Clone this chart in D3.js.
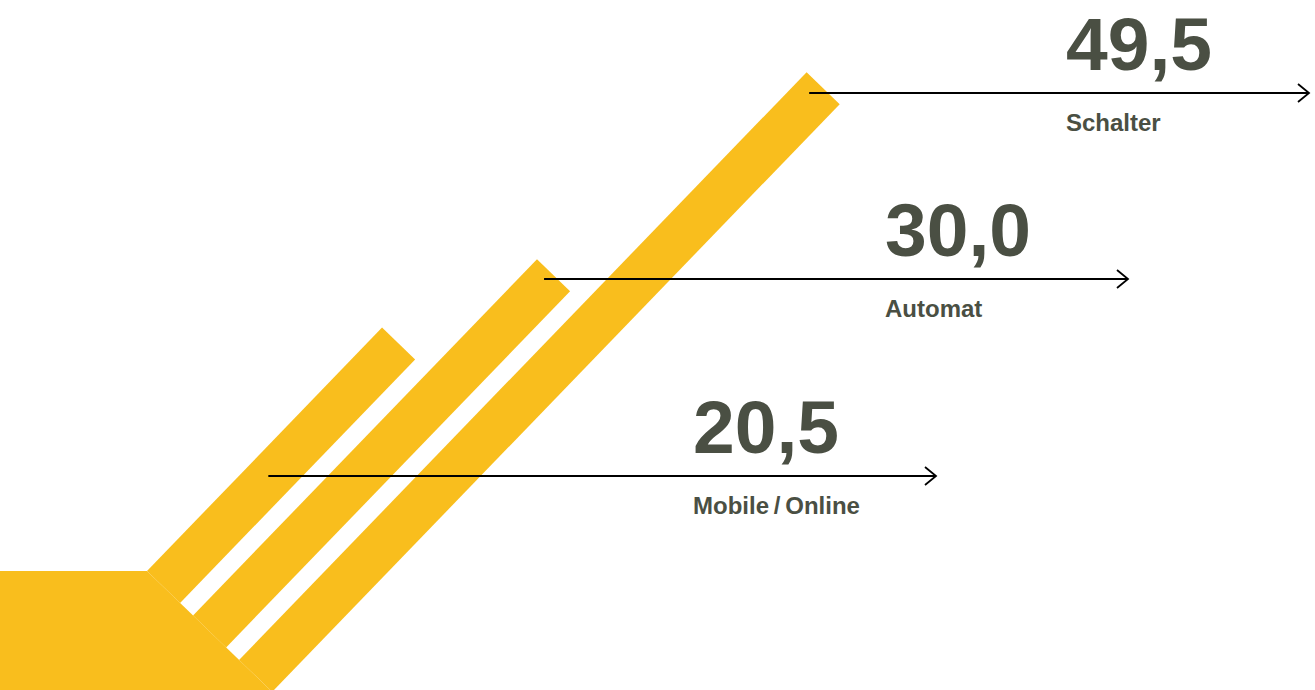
<!DOCTYPE html>
<html>
<head>
<meta charset="utf-8">
<script src="https://cdn.jsdelivr.net/npm/d3@7"></script>
<style>
  html, body { margin: 0; padding: 0; background: #fff; }
  svg { display: block; }
</style>
</head>
<body>
<div id="chart"></div>
<script>
// data
const categories = ["Mobile\u2009/\u2009Online", "Automat", "Schalter"];
const values = [20.5, 30.0, 49.5];

// layout
const width = 1315
const height = 690
const yellow = '#f9be1d'
const textColor = '#4a4f43'
const angle = 46 * Math.PI / 180          // bars lean up-right
const barW = 46                            // bar thickness
const barGap = 18
const origin = [147, 571]                  // left base corner of first bar
const rowY = [476, 279, 93]                // arrow rows for the labels
const arrowEnd = [936, 1128, 1309]

const c = Math.cos(angle), s = Math.sin(angle)

const de = d3.formatLocale({decimal: ",", thousands: ".", grouping: [3], currency: ["", " €"]})
const fmt = de.format(".1f")

const len = d3.scaleLinear()
  .domain([0, d3.max(values)])
  .range([0, 817])

const svg = d3.select("#chart").append("svg")
  .attr("width", width)
  .attr("height", height)

// base block the bars grow from
const baseBottom = height + 10
const baseX = origin[0] + (baseBottom - origin[1]) * s / c
svg.append("path")
  .attr("d", `M0,${origin[1]} L${origin[0]},${origin[1]} L${baseX},${baseBottom} L0,${baseBottom} Z`)
  .attr("fill", yellow)

// bars, drawn in a rotated frame: x along the bar, y across
const g = svg.append("g")
  .attr("transform", `translate(${origin[0]},${origin[1]}) rotate(${-46})`)

g.selectAll("rect")
  .data(values)
  .enter()
  .append("rect")
  .attr("x", 0)
  .attr("y", (d, i) => i * (barW + barGap))
  .attr("width", d => len(d))
  .attr("height", barW)
  .attr("fill", yellow)

// arrows + labels
const rows = svg.selectAll("g.row")
  .data(values)
  .enter()
  .append("g")
  .attr("class", "row")

// arrow starts inside the bar, a bit left of its middle
const startX = (d, i) => {
  const ly = i * (barW + barGap) + 22 - i * 2.5
  const lx = (origin[1] + ly * c - rowY[i]) / s
  return origin[0] + lx * c + ly * s - 1
}

rows.append("line")
  .attr("x1", startX)
  .attr("x2", (d, i) => arrowEnd[i])
  .attr("y1", (d, i) => rowY[i])
  .attr("y2", (d, i) => rowY[i])
  .attr("stroke", "#000")
  .attr("stroke-width", 1.8)

rows.append("path")
  .attr("d", (d, i) => `M${arrowEnd[i] - 11},${rowY[i] - 9} L${arrowEnd[i]},${rowY[i]} L${arrowEnd[i] - 11},${rowY[i] + 9}`)
  .attr("fill", "none")
  .attr("stroke", "#000")
  .attr("stroke-width", 1.8)

rows.append("text")
  .attr("x", (d, i) => arrowEnd[i] - 243)
  .attr("y", (d, i) => rowY[i] - 23)
  .attr("fill", textColor)
  .style("font-family", "'Liberation Sans', Arial, Helvetica, sans-serif")
  .style("font-weight", "bold")
  .style("font-size", "75px")
  .text(d => fmt(d))

rows.append("text")
  .attr("x", (d, i) => arrowEnd[i] - 243)
  .attr("y", (d, i) => rowY[i] + 38)
  .attr("fill", textColor)
  .style("font-family", "'Liberation Sans', Arial, Helvetica, sans-serif")
  .style("font-weight", "bold")
  .style("font-size", "24px")
  .text((d, i) => categories[i])
</script>
</body>
</html>
